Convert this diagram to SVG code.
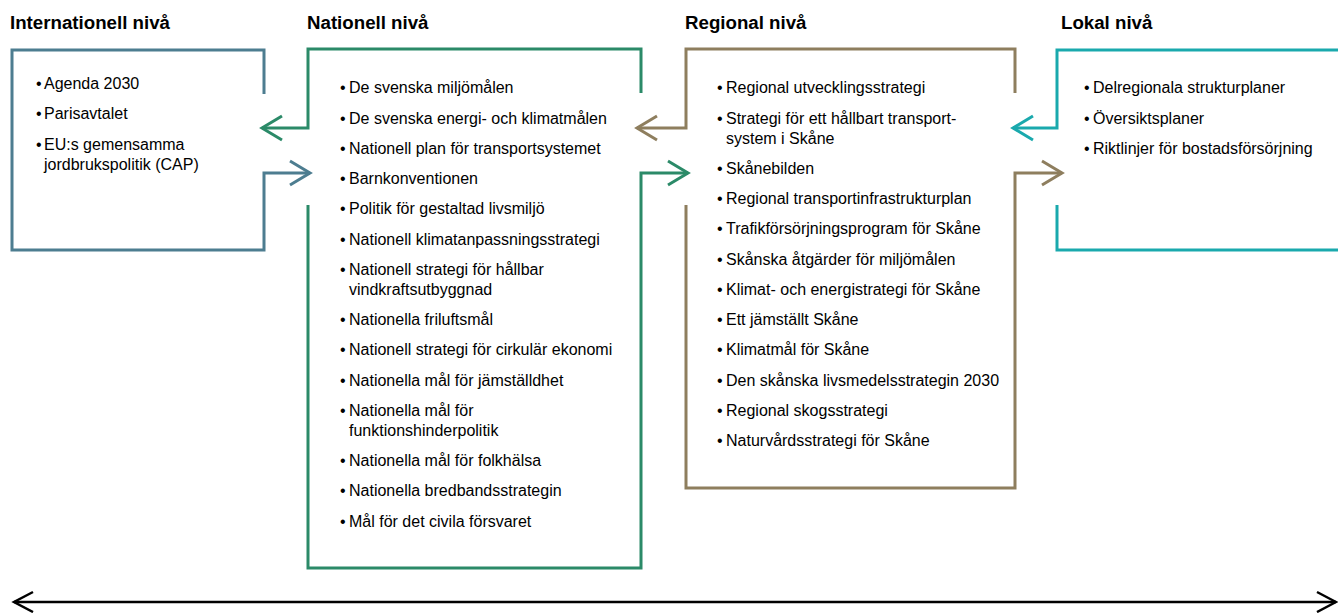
<svg xmlns="http://www.w3.org/2000/svg" width="1338" height="613" viewBox="0 0 1338 613">
  <style>
    .title { font-family: "Liberation Sans", Arial, sans-serif; font-weight: bold; font-size: 18.7px; fill: #000; }
    .item { font-family: "Liberation Sans", Arial, sans-serif; font-size: 16px; fill: #000; }
    .frame { fill: none; stroke-width: 3; stroke-linejoin: miter; stroke-linecap: butt; }
    .blue { stroke: #4d7d90; }
    .green { stroke: #2b8a68; }
    .brown { stroke: #8e7e5e; }
    .teal { stroke: #1aa9ad; }
  </style>
  <defs>
    <marker id="ah-blue" markerUnits="userSpaceOnUse" viewBox="-22 -14 26 28" markerWidth="26" markerHeight="28" refX="0" refY="0" orient="auto">
      <path d="M-20,-12 L0,0 L-20,12" fill="none" stroke="#4d7d90" stroke-width="3"/>
    </marker>
    <marker id="ah-green" markerUnits="userSpaceOnUse" viewBox="-22 -14 26 28" markerWidth="26" markerHeight="28" refX="0" refY="0" orient="auto">
      <path d="M-20,-12 L0,0 L-20,12" fill="none" stroke="#2b8a68" stroke-width="3"/>
    </marker>
    <marker id="ah-brown" markerUnits="userSpaceOnUse" viewBox="-22 -14 26 28" markerWidth="26" markerHeight="28" refX="0" refY="0" orient="auto">
      <path d="M-20,-12 L0,0 L-20,12" fill="none" stroke="#8e7e5e" stroke-width="3"/>
    </marker>
    <marker id="ah-teal" markerUnits="userSpaceOnUse" viewBox="-22 -14 26 28" markerWidth="26" markerHeight="28" refX="0" refY="0" orient="auto">
      <path d="M-20,-12 L0,0 L-20,12" fill="none" stroke="#1aa9ad" stroke-width="3"/>
    </marker>
    <marker id="ah-black" markerUnits="userSpaceOnUse" viewBox="-22 -14 26 28" markerWidth="26" markerHeight="28" refX="0" refY="0" orient="auto-start-reverse">
      <path d="M-19,-10 L0,0 L-19,10" fill="none" stroke="#000" stroke-width="2.5"/>
    </marker>
  </defs>

  <g id="international">
    <text class="title" x="10" y="29">Internationell nivå</text>
    <g class="item">
      <text x="36" y="88.5">•</text><text x="44" y="88.5">Agenda 2030</text>
      <text x="36" y="119">•</text><text x="44" y="119">Parisavtalet</text>
      <text x="36" y="150">•</text><text x="44" y="150">EU:s gemensamma</text>
      <text x="44" y="170">jordbrukspolitik (CAP)</text>
    </g>
  </g>

  <g id="nationell">
    <text class="title" x="307" y="29">Nationell nivå</text>
    <g class="item">
      <text x="340" y="93.3">•</text><text x="349" y="93.3">De svenska miljömålen</text>
      <text x="340" y="123.5">•</text><text x="349" y="123.5">De svenska energi- och klimatmålen</text>
      <text x="340" y="153.8">•</text><text x="349" y="153.8">Nationell plan för transportsystemet</text>
      <text x="340" y="184">•</text><text x="349" y="184">Barnkonventionen</text>
      <text x="340" y="214.3">•</text><text x="349" y="214.3">Politik för gestaltad livsmiljö</text>
      <text x="340" y="244.5">•</text><text x="349" y="244.5">Nationell klimatanpassningsstrategi</text>
      <text x="340" y="274.8">•</text><text x="349" y="274.8">Nationell strategi för hållbar</text>
      <text x="349" y="294.8">vindkraftsutbyggnad</text>
      <text x="340" y="325">•</text><text x="349" y="325">Nationella friluftsmål</text>
      <text x="340" y="355.3">•</text><text x="349" y="355.3">Nationell strategi för cirkulär ekonomi</text>
      <text x="340" y="385.5">•</text><text x="349" y="385.5">Nationella mål för jämställdhet</text>
      <text x="340" y="415.8">•</text><text x="349" y="415.8">Nationella mål för</text>
      <text x="349" y="435.8">funktionshinderpolitik</text>
      <text x="340" y="466">•</text><text x="349" y="466">Nationella mål för folkhälsa</text>
      <text x="340" y="496.3">•</text><text x="349" y="496.3">Nationella bredbandsstrategin</text>
      <text x="340" y="526.5">•</text><text x="349" y="526.5">Mål för det civila försvaret</text>
    </g>
  </g>

  <g id="regional">
    <text class="title" x="685" y="29">Regional nivå</text>
    <g class="item">
      <text x="717" y="93.3">•</text><text x="726" y="93.3">Regional utvecklingsstrategi</text>
      <text x="717" y="123.5">•</text><text x="726" y="123.5">Strategi för ett hållbart transport-</text>
      <text x="726" y="143.5">system i Skåne</text>
      <text x="717" y="173.8">•</text><text x="726" y="173.8">Skånebilden</text>
      <text x="717" y="204">•</text><text x="726" y="204">Regional transportinfrastrukturplan</text>
      <text x="717" y="234.3">•</text><text x="726" y="234.3">Trafikförsörjningsprogram för Skåne</text>
      <text x="717" y="264.5">•</text><text x="726" y="264.5">Skånska åtgärder för miljömålen</text>
      <text x="717" y="294.8">•</text><text x="726" y="294.8">Klimat- och energistrategi för Skåne</text>
      <text x="717" y="325">•</text><text x="726" y="325">Ett jämställt Skåne</text>
      <text x="717" y="355.3">•</text><text x="726" y="355.3">Klimatmål för Skåne</text>
      <text x="717" y="385.5">•</text><text x="726" y="385.5">Den skånska livsmedelsstrategin 2030</text>
      <text x="717" y="415.8">•</text><text x="726" y="415.8">Regional skogsstrategi</text>
      <text x="717" y="446">•</text><text x="726" y="446">Naturvårdsstrategi för Skåne</text>
    </g>
  </g>

  <g id="lokal">
    <text class="title" x="1061" y="29">Lokal nivå</text>
    <g class="item">
      <text x="1084" y="93.3">•</text><text x="1093" y="93.3">Delregionala strukturplaner</text>
      <text x="1084" y="123.5">•</text><text x="1093" y="123.5">Översiktsplaner</text>
      <text x="1084" y="153.8">•</text><text x="1093" y="153.8">Riktlinjer för bostadsförsörjning</text>
    </g>
  </g>

  <g id="connectors">
    <path class="frame blue" d="M264,94 V50 H12 V250 H264 V173 H310" marker-end="url(#ah-blue)"/>
    <path class="frame green" d="M641,93 V49 H308 V128 H262" marker-end="url(#ah-green)"/>
    <path class="frame green" d="M308,205 V568 H641 V173 H688" marker-end="url(#ah-green)"/>
    <path class="frame brown" d="M1015,93 V49 H686 V128 H637" marker-end="url(#ah-brown)"/>
    <path class="frame brown" d="M686,205 V488 H1015 V173 H1062" marker-end="url(#ah-brown)"/>
    <path class="frame teal" d="M1345,50 H1057 V128 H1013" marker-end="url(#ah-teal)"/>
    <path class="frame teal" d="M1057,205 V250 H1345"/>
    <path d="M14,602 H1336" fill="none" stroke="#000" stroke-width="2.5" marker-start="url(#ah-black)" marker-end="url(#ah-black)"/>
  </g>
</svg>
